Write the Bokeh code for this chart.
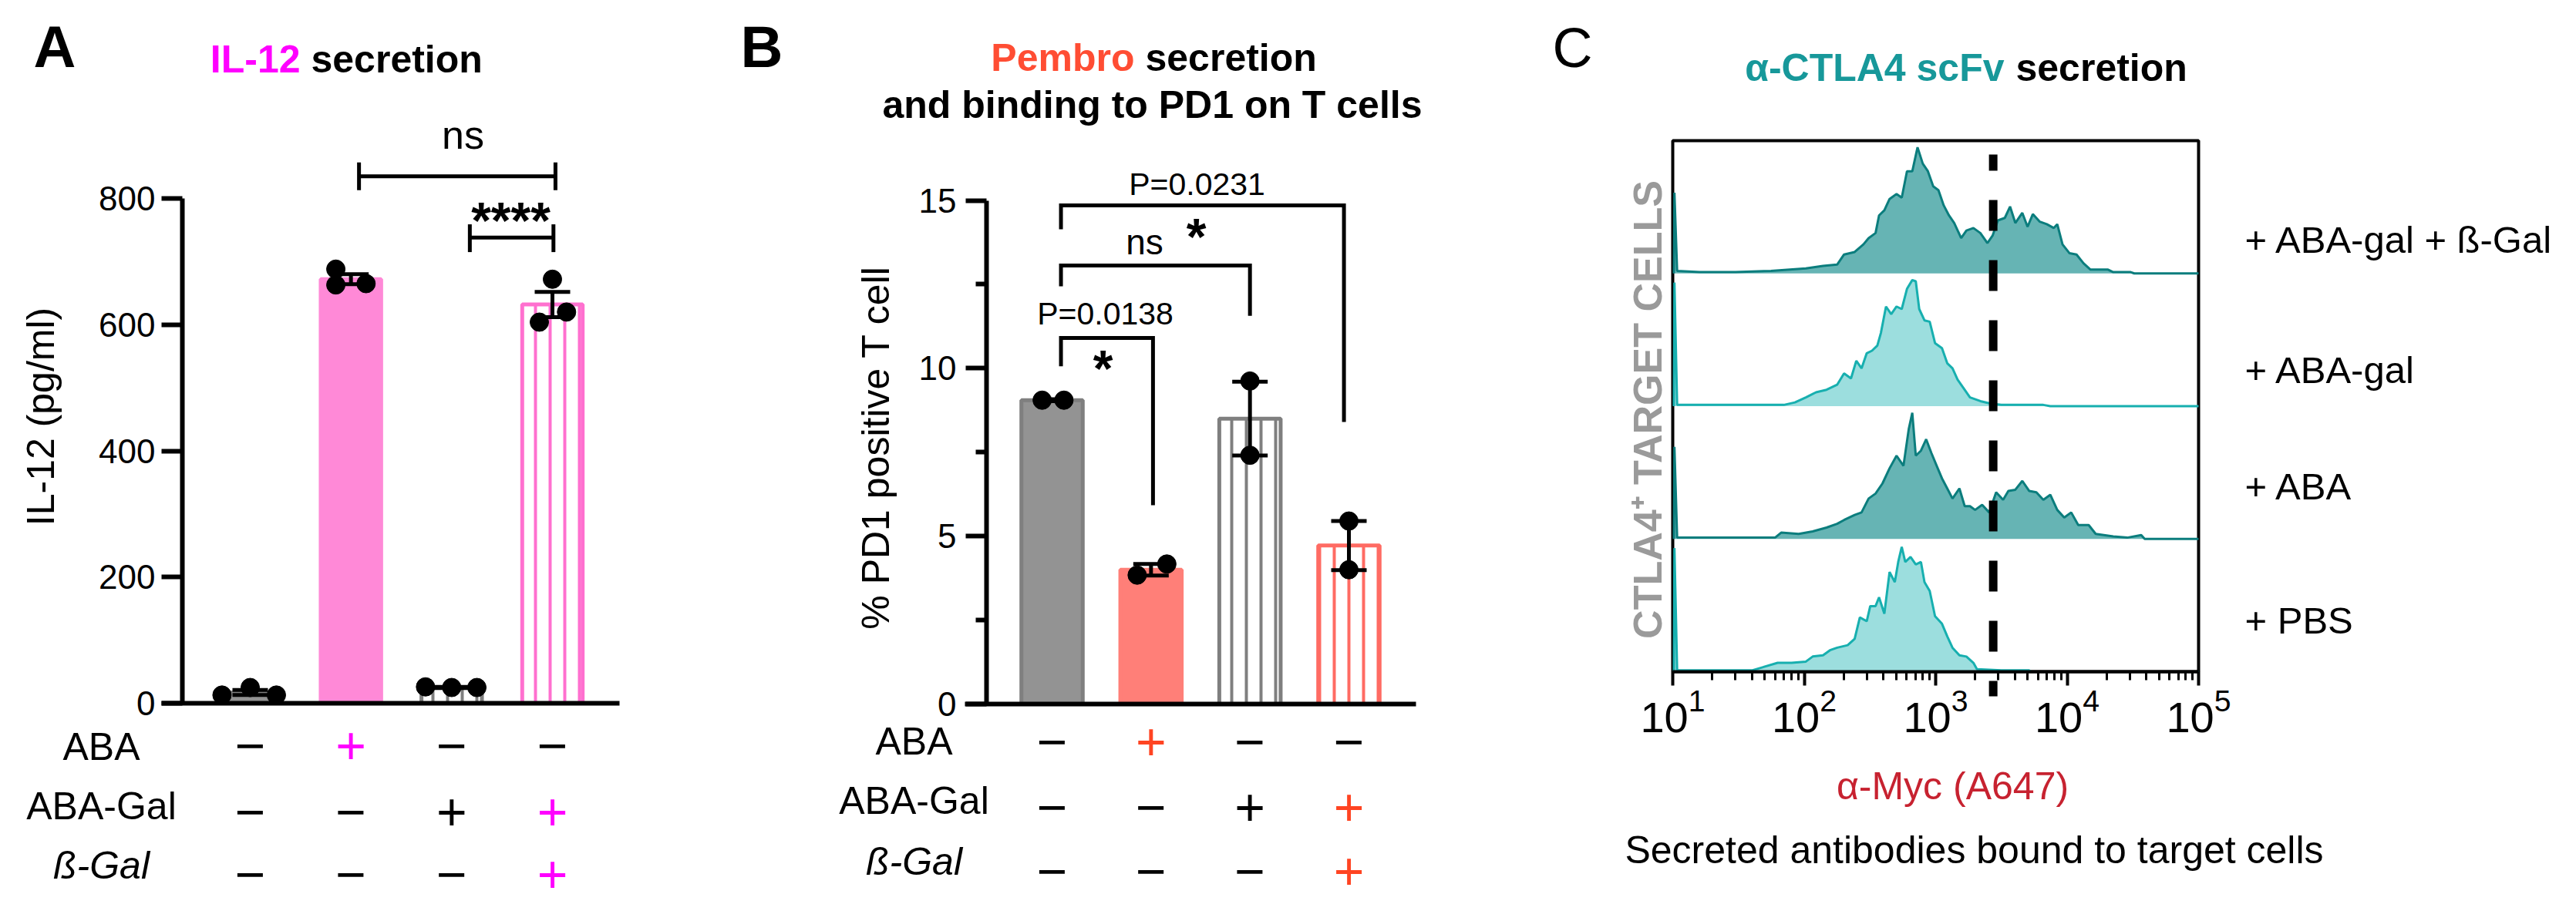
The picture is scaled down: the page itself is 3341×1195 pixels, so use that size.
import math
from bokeh.plotting import figure
from bokeh.layouts import row
from bokeh.models import (Range1d, LinearAxis, LogAxis, FixedTicker, LogTickFormatter,
                          ColumnDataSource, Whisker, TeeHead)
from bokeh.core.properties import value
from bokeh.embed import file_html
from bokeh.resources import INLINE

FONT = "Liberation Sans"

# ------------------------------------------------------------------ data
row_labels = ["ABA", "ABA-Gal", "ß-Gal"]
treat_aba = ["−", "+", "−", "−"]
treat_abagal = ["−", "−", "+", "+"]
treat_bgal = ["−", "−", "−", "+"]
accent_bar = [False, True, False, True]      # bars drawn in the panel colour
striped_bar = [False, False, True, True]     # hatched bars (ABA-Gal)

# Panel A : IL-12 (pg/ml)
il12_mean = [17, 672, 25, 632]
il12_sem = [4, 8, 1, 20]
il12_points = [[13, 25, 13], [688, 663, 665], [26, 25, 25], [672, 620, 604]]
il12_ticks = [0, 200, 400, 600, 800]

# Panel B : % PD1 positive T cell
pd1_mean = [9.05, 4.0, 8.5, 4.72]
pd1_sem = [0.03, 0.17, 1.1, 0.73]
pd1_points = [[9.05, 9.05], [3.84, 4.17], [9.62, 7.41], [5.45, 4.0]]
pd1_ticks = [0, 5, 10, 15]
pd1_minor = [2.5, 7.5, 12.5]

# Panel C : flow histograms (alpha-Myc A647 intensity, % of mode)
hist_labels = ["+ ABA-gal + ß-Gal", "+ ABA-gal", "+ ABA", "+ PBS"]
x1 = [10.2, 10.3, 10.8, 16, 30, 56, 103, 139, 178, 201,
      242, 282, 309, 349, 371, 407, 446, 504, 552, 605,
      664, 728, 798, 873, 958, 1050, 1151, 1262, 1384, 1563,
      1714, 1937, 2188, 2474, 2711, 2972, 3358, 3681, 4036, 4562,
      5002, 5484, 6199, 7007, 7920, 8414, 9227, 10430, 11790, 13330,
      15060, 20470, 22440, 30470, 32390, 100000]
y1 = [0, 64, 2, 1, 1, 2, 4, 6, 7, 15,
      17, 23, 28, 32, 46, 50, 59, 63, 60, 81,
      81, 100, 87, 81, 69, 66, 54, 46, 40, 28,
      34, 36, 32, 24, 30, 42, 44, 53, 40, 48,
      37, 47, 41, 39, 36, 39, 23, 16, 15, 8,
      3, 3, 1, 1, 0, 0]
x2 = [10.2, 10.3, 10.8, 20, 40, 70, 85, 103, 123, 148,
      178, 201, 227, 249, 273, 299, 328, 360, 383, 419,
      459, 504, 552, 605, 664, 706, 750, 822, 901, 989,
      1117, 1225, 1343, 1469, 1611, 1824, 2188, 2630, 3162, 6592,
      7447, 100000]
y2 = [0, 98, 1, 1, 1, 1, 3, 7, 11, 13,
      17, 26, 22, 36, 30, 42, 44, 48, 58, 79,
      73, 79, 77, 93, 100, 99, 77, 68, 67, 50,
      46, 34, 30, 21, 15, 7, 4, 2, 1, 1,
      0, 0]
x3 = [10.2, 10.3, 10.8, 20, 40, 60, 66.8, 90.8, 116, 148,
      178, 201, 242, 273, 309, 349, 394, 446, 504, 569,
      624, 664, 706, 773, 847, 929, 1018, 1117, 1225, 1343,
      1516, 1663, 1824, 1995, 2257, 2553, 2884, 3259, 3573, 4036,
      4562, 5152, 5834, 6592, 7447, 8414, 9506, 10740, 12150, 14590,
      16500, 22440, 28640, 36620, 38900, 100000]
y3 = [0, 73, 1, 1, 1, 1, 5, 4, 6, 9,
      12, 15, 19, 21, 32, 36, 44, 56, 66, 58,
      87, 100, 66, 70, 79, 68, 58, 48, 40, 32,
      40, 26, 26, 23, 27, 21, 37, 31, 38, 39,
      46, 38, 37, 31, 35, 23, 17, 21, 11, 11,
      4, 2, 1, 3, 0, 0]
x4 = [10.2, 10.3, 10.8, 20, 40, 62.8, 80.2, 103, 116, 139,
      157, 178, 214, 242, 265, 299, 318, 349, 371, 407,
      446, 489, 519, 552, 587, 644, 706, 773, 822, 901,
      989, 1117, 1225, 1343, 1516, 1714, 1937, 2061, 3162, 5152,
      5321, 100000]
y4 = [0, 98, 1, 1, 1, 7, 7, 8, 12, 13,
      17, 19, 21, 26, 43, 40, 52, 52, 59, 46,
      79, 71, 87, 99, 87, 91, 85, 87, 71, 64,
      44, 38, 28, 19, 13, 12, 7, 2, 1, 1,
      0, 0]
myc_threshold = 2740
flow_ticks = [1e1, 1e2, 1e3, 1e4, 1e5]

# ------------------------------------------------------------------ layout helpers
H = 1195
OY = 0
W_A, W_B, W_C = 960, 1040, 1341
OX_A, OX_B, OX_C = 0, 960, 2000


class PxMap:
    """maps reference-picture pixels to a panel's data space"""
    def __init__(self, ox, width, px_a, v_a, px_b, v_b, py_a, w_a, py_b, w_b, logx=False):
        self.sx = (px_b - px_a) / (v_b - v_a)
        self.x0 = v_a - (px_a - ox) / self.sx
        self.x1 = self.x0 + width / self.sx
        self.sy = (py_a - py_b) / (w_b - w_a)
        self.y1 = w_a + (py_a - OY) / self.sy
        self.y0 = self.y1 - H / self.sy
        self.ox = ox
        self.logx = logx

    def X(self, px):
        v = self.x0 + (px - self.ox) / self.sx
        return 10 ** v if self.logx else v

    def Y(self, py):
        return self.y1 - (py - OY) / self.sy


def make_fig(w, m):
    if m.logx:
        xr = Range1d(10 ** m.x0, 10 ** m.x1)
    else:
        xr = Range1d(m.x0, m.x1)
    p = figure(width=w, height=H, x_range=xr, y_range=Range1d(m.y0, m.y1),
               x_axis_type="log" if m.logx else "linear",
               x_axis_location=None, y_axis_location=None,
               output_backend="svg", toolbar_location=None,
               min_border=0, outline_line_color=None,
               background_fill_color="white", border_fill_color="white")
    p.xgrid.visible = False
    p.ygrid.visible = False
    return p


def txt(p, x, y, s, size, color="black", style="normal", align="center", angle=0.0):
    p.text(x=[x], y=[y], text=[s], text_font=value(FONT), text_font_size=f"{size}px",
           text_color=color, text_font_style=style, text_align=align,
           text_baseline="middle", angle=angle)


def on_base(base_px, size):
    """pixel row of the em-box middle for text whose baseline sits at base_px"""
    return base_px - 0.3465 * size


def star_mid(center_px, size):
    """pixel row of the em-box middle for an asterisk whose ink is centred at center_px"""
    return center_px + 0.225 * size


def bar_panel(p, m, means, sems, points, dxs, accent_fill, accent_line,
              bar_width, sign_rows_y, label_rows_y, label_x, plus_color):
    xs = [1, 2, 3, 4]
    fills, lines, hatches, hcols = [], [], [], []
    for acc, stp in zip(accent_bar, striped_bar):
        base_fill = accent_fill if acc else "#939393"
        base_line = accent_line if acc else "#7f7f7f"
        if stp:
            fills.append("white"); hatches.append("|")
            hcols.append(base_line); lines.append(base_line)
        else:
            fills.append(base_fill); hatches.append(" ")
            hcols.append(base_fill); lines.append(base_line if not acc else base_fill)
    src = ColumnDataSource(dict(x=xs, top=means, fill=fills, line=lines,
                                hatch=hatches, hcol=hcols))
    p.vbar(x="x", top="top", bottom=0, width=bar_width, source=src,
           fill_color="fill", line_color="line", line_width=5,
           hatch_pattern="hatch", hatch_color="hcol", hatch_weight=4, hatch_scale=19)
    wsrc = ColumnDataSource(dict(base=xs,
                                 up=[a + b for a, b in zip(means, sems)],
                                 lo=[a - b for a, b in zip(means, sems)]))
    w = Whisker(base="base", upper="up", lower="lo", source=wsrc, line_width=5,
                line_color="black", level="annotation",
                upper_head=TeeHead(size=46, line_width=5, line_color="black"),
                lower_head=TeeHead(size=46, line_width=5, line_color="black"))
    p.add_layout(w)
    ptx, pty = [], []
    for i, (pts, dd) in enumerate(zip(points, dxs)):
        for v, d in zip(pts, dd):
            ptx.append(xs[i] + d)
            pty.append(v)
    p.scatter(ptx, pty, size=24, color="black")
    # condition table
    rows = [treat_aba, treat_abagal, treat_bgal]
    tx, ty, tt, tc = [], [], [], []
    for r, (signs, sy) in enumerate(zip(rows, sign_rows_y)):
        for i, s in enumerate(signs):
            tx.append(xs[i]); ty.append(m.Y(sy)); tt.append(s)
            tc.append(plus_color if (s == "+" and accent_bar[i]) else "black")
    p.text(x=tx, y=ty, text=tt, text_color=tc, text_font=value(FONT),
           text_font_size="68px", text_align="center", text_baseline="middle")
    for r, (lab, ly) in enumerate(zip(row_labels, label_rows_y)):
        txt(p, m.X(label_x), m.Y(ly), lab, 50, style="italic" if r == 2 else "normal")


# ------------------------------------------------------------------ panel A
mA = PxMap(OX_A, W_A, 324, 1, 716, 4, 912, 0, 257, 800)
pA = make_fig(W_A, mA)
bar_panel(pA, mA, il12_mean, il12_sem, il12_points,
          [[-0.28, 0.0, 0.26], [-0.15, -0.15, 0.15], [-0.26, 0.0, 0.25], [0.0, 0.14, -0.13]],
          "#ff89d7", "#ff70cf", 0.6,
          [967, 1053, 1134], [968, 1045, 1122], 131, "#ff00ff")
pA.add_layout(LinearAxis(fixed_location=mA.X(236), bounds=(0, 800),
                         ticker=FixedTicker(ticks=il12_ticks, minor_ticks=[]),
                         axis_line_width=6, major_tick_line_width=6, major_tick_in=0,
                         major_tick_out=27, minor_tick_line_color=None,
                         major_label_text_font=FONT, major_label_text_font_size="44px",
                         major_label_standoff=8, major_label_text_color="black"), "left")
pA.add_layout(LinearAxis(fixed_location=0, bounds=(mA.X(209), mA.X(803)),
                         ticker=FixedTicker(ticks=[], minor_ticks=[]), axis_line_width=6,
                         major_tick_line_color=None, minor_tick_line_color=None,
                         major_label_text_font_size="0px"), "below")
# significance brackets (category positions / pg/ml)
pA.multi_line(xs=[[2.08, 2.08], [2.08, 4.03], [4.03, 4.03], [3.18, 3.18], [3.18, 4.01], [4.01, 4.01]],
              ys=[[857, 813], [835, 835], [857, 813], [759, 715], [738, 738], [759, 715]],
              line_color="black", line_width=5)
txt(pA, mA.X(600), mA.Y(on_base(193, 52)), "ns", 52)
txt(pA, mA.X(662), mA.Y(star_mid(271, 66)), "****", 66, style="bold")
txt(pA, mA.X(43), mA.Y(on_base(86, 76)), "A", 76, style="bold", align="left")
txt(pA, mA.X(389), mA.Y(on_base(94, 50)), "IL-12", 50, color="#ff00ff", style="bold", align="right")
txt(pA, mA.X(403), mA.Y(on_base(94, 50)), "secretion", 50, style="bold", align="left")
txt(pA, mA.X(52), mA.Y(540), "IL-12 (pg/ml)", 50, angle=math.pi / 2)

# ------------------------------------------------------------------ panel B
mB = PxMap(OX_B, W_B, 1364, 1, 1749, 4, 913, 0, 259.5, 15)
pB = make_fig(W_B, mB)
bar_panel(pB, mB, pd1_mean, pd1_sem, pd1_points,
          [[-0.1, 0.12], [-0.14, 0.16], [0.0, 0.0], [0.0, 0.0]],
          "#ff7f78", "#ff6b63", 0.62,
          [962, 1047, 1130], [961, 1038, 1117], 1185, "#ff4422")
pB.add_layout(LinearAxis(fixed_location=mB.X(1279), bounds=(0, 15),
                         ticker=FixedTicker(ticks=pd1_ticks, minor_ticks=pd1_minor),
                         axis_line_width=6, major_tick_line_width=6, major_tick_in=0,
                         major_tick_out=27, minor_tick_line_width=6, minor_tick_in=0,
                         minor_tick_out=14, major_label_text_font=FONT,
                         major_label_text_font_size="44px", major_label_standoff=12,
                         major_label_text_color="black"), "left")
pB.add_layout(LinearAxis(fixed_location=0, bounds=(mB.X(1251), mB.X(1836)),
                         ticker=FixedTicker(ticks=[], minor_ticks=[]), axis_line_width=6,
                         major_tick_line_color=None, minor_tick_line_color=None,
                         major_label_text_font_size="0px"), "below")
pB.multi_line(xs=[[1.09, 1.09, 3.95, 3.95], [1.09, 1.09, 3.0, 3.0], [1.09, 1.09, 2.02, 2.02]],
              ys=[[14.14, 14.85, 14.85, 8.40], [12.44, 13.06, 13.06, 11.56], [10.06, 10.90, 10.90, 5.92]],
              line_color="black", line_width=5, line_join="miter")
txt(pB, mB.X(1552), mB.Y(on_base(253, 41)), "P=0.0231", 41)
txt(pB, mB.X(1551), mB.Y(star_mid(292, 66)), "*", 66, style="bold")
txt(pB, mB.X(1484), mB.Y(on_base(329, 46)), "ns", 46)
txt(pB, mB.X(1433), mB.Y(on_base(421, 41)), "P=0.0138", 41)
txt(pB, mB.X(1430), mB.Y(star_mid(463, 66)), "*", 66, style="bold")
txt(pB, mB.X(960), mB.Y(on_base(86, 76)), "B", 76, style="bold", align="left")
txt(pB, mB.X(1471), mB.Y(on_base(92, 50)), "Pembro", 50, color="#ff4d33", style="bold", align="right")
txt(pB, mB.X(1485), mB.Y(on_base(92, 50)), "secretion", 50, style="bold", align="left")
txt(pB, mB.X(1494), mB.Y(on_base(153, 50)), "and binding to PD1 on T cells", 50, style="bold")
txt(pB, mB.X(1135), mB.Y(580), "% PD1 positive T cell", 50, angle=math.pi / 2)

# ------------------------------------------------------------------ panel C
mC = PxMap(OX_C, W_C, 2169, 1, 2851, 5, 871, 0, 182, 4, logx=True)
pC = make_fig(W_C, mC)
pC.quad(left=[1e1], right=[1e5], bottom=[0], top=[4], fill_color=None,
        line_color="black", line_width=4)
lane_x = [x1, x2, x3, x4]
lane_y = [y1, y2, y3, y4]
lane_fill = ["#66b4b4", "#9cdede", "#66b4b4", "#9cdede"]
lane_line = ["#0b7d7d", "#17afaf", "#0b7d7d", "#17afaf"]
for i in range(4):
    base = 3 - i
    top = [base + v / 100 * 0.95 for v in lane_y[i]]
    pC.varea(x=lane_x[i], y1=[base] * len(top), y2=top, fill_color=lane_fill[i])
    pC.line(lane_x[i], top, line_color=lane_line[i], line_width=3)
pC.segment(x0=[myc_threshold], y0=[mC.Y(200)], x1=[myc_threshold], y1=[mC.Y(903)],
           line_color="black", line_width=11, line_dash="40 38", line_dash_offset=19)
minor = [m * 10 ** k for k in range(1, 5) for m in range(2, 10)]
pC.add_layout(LogAxis(fixed_location=0, bounds=(1e1, 1e5),
                      ticker=FixedTicker(ticks=flow_ticks, minor_ticks=minor),
                      formatter=LogTickFormatter(),
                      axis_line_width=4, major_tick_line_width=4, minor_tick_line_width=3,
                      major_tick_in=0, major_tick_out=18, minor_tick_in=0, minor_tick_out=11,
                      major_label_text_font=FONT, major_label_text_font_size="56px",
                      major_label_standoff=4, major_label_text_color="black"), "below")
for lab, py in zip(hist_labels, [327, 496, 647, 821]):
    txt(pC, mC.X(2911), mC.Y(on_base(py, 49)), lab, 49, align="left")
txt(pC, mC.X(2013), mC.Y(on_base(86, 72)), "C", 72, align="left")
txt(pC, mC.X(2599), mC.Y(on_base(105, 50)), "α-CTLA4 scFv", 50, color="#17989a", style="bold", align="right")
txt(pC, mC.X(2614), mC.Y(on_base(105, 50)), "secretion", 50, style="bold", align="left")
txt(pC, mC.X(2136), mC.Y(531), "CTLA4⁺ TARGET CELLS", 52, color="#9a9a9a", style="bold",
    angle=math.pi / 2)
txt(pC, mC.X(2532), mC.Y(on_base(1037, 50)), "α-Myc (A647)", 50, color="#c72230")
txt(pC, mC.X(2560), mC.Y(on_base(1120, 50)), "Secreted antibodies bound to target cells", 50)

layout = row(pA, pB, pC)
open("out.html", "w").write(file_html(layout, INLINE))
